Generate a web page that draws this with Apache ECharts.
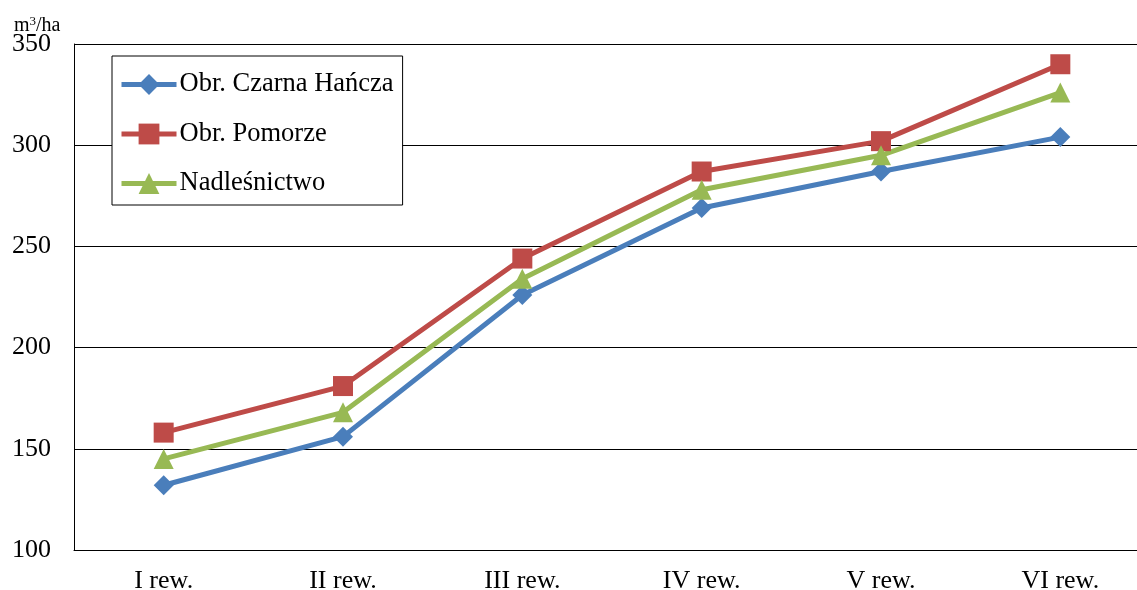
<!DOCTYPE html>
<html>
<head>
<meta charset="utf-8">
<script src="https://cdn.jsdelivr.net/npm/echarts@6/dist/echarts.min.js"></script>
<style>
  html, body { margin: 0; padding: 0; background: #fff; }
  #chart { width: 1137px; height: 590px; }
</style>
</head>
<body>
<div id="chart"></div>
<script>
// Średnia zasobność drzewostanów w kolejnych rewizjach urządzania lasu
const categories = ['I rew.', 'II rew.', 'III rew.', 'IV rew.', 'V rew.', 'VI rew.'];
const czarnaHancza = [132, 156, 226, 269, 287, 304];
const pomorze = [158, 181, 244, 287, 302, 340];
const nadlesnictwo = [145, 168, 234, 278, 295, 326];
const seriesNames = ['Obr. Czarna Hańcza', 'Obr. Pomorze', 'Nadleśnictwo'];

const FONT = '"Liberation Serif", "Times New Roman", serif';

const chart = echarts.init(document.getElementById('chart'), null, { renderer: 'canvas' });

function lineSeries(name, data, color, symbol, size) {
  return {
    name: name,
    type: 'line',
    data: data,
    symbol: symbol,
    symbolSize: size,
    showAllSymbol: true,
    lineStyle: { color: color, width: 5 },
    itemStyle: { color: color },
    emphasis: { disabled: true },
    z: 3
  };
}

chart.setOption({
  animation: false,
  backgroundColor: '#ffffff',
  // the plot runs slightly past the right edge of the canvas
  grid: {
    left: 74, right: -13, top: 44, bottom: 40,
    containLabel: false,
    outerBoundsMode: 'none'
  },
  graphic: [{
    type: 'text',
    left: 14,
    top: 15,
    style: {
      text: '{u|m}{s|3}{u|/ha}',
      rich: {
        u: { fontFamily: FONT, fontSize: 20, fill: '#000', verticalAlign: 'bottom' },
        s: { fontFamily: FONT, fontSize: 13, fill: '#000', verticalAlign: 'top', padding: [0, 0, 8, 0] }
      }
    }
  }],
  legend: {
    orient: 'vertical',
    left: 112,
    top: 56,
    padding: [15, 9, 8, 7],
    itemGap: 22.5,
    itemWidth: 55,
    itemHeight: 26,
    backgroundColor: '#fff',
    borderColor: '#000',
    borderWidth: 1,
    borderRadius: 0,
    selectedMode: false,
    lineStyle: { width: 5 },
    textStyle: { fontFamily: FONT, fontSize: 26.5, color: '#000', padding: [0, 0, 0, -2] },
    data: seriesNames
  },
  xAxis: {
    type: 'category',
    data: categories,
    boundaryGap: true,
    axisLine: { show: true, lineStyle: { color: '#000', width: 1 } },
    axisTick: { show: false },
    axisLabel: { fontFamily: FONT, fontSize: 26, color: '#000', margin: 18 },
    splitLine: { show: false }
  },
  yAxis: {
    type: 'value',
    min: 100,
    max: 350,
    interval: 50,
    axisLine: { show: true, lineStyle: { color: '#000', width: 1 } },
    axisTick: { show: false },
    axisLabel: { fontFamily: FONT, fontSize: 26, color: '#000', margin: 23 },
    splitLine: { show: true, lineStyle: { color: '#000', width: 1 } }
  },
  series: [
    lineSeries(seriesNames[0], czarnaHancza, '#4A7EBB', 'diamond', 20),
    lineSeries(seriesNames[1], pomorze, '#BE4B48', 'rect', 20),
    lineSeries(seriesNames[2], nadlesnictwo, '#98B954', 'triangle', 20)
  ]
});
</script>
</body>
</html>
